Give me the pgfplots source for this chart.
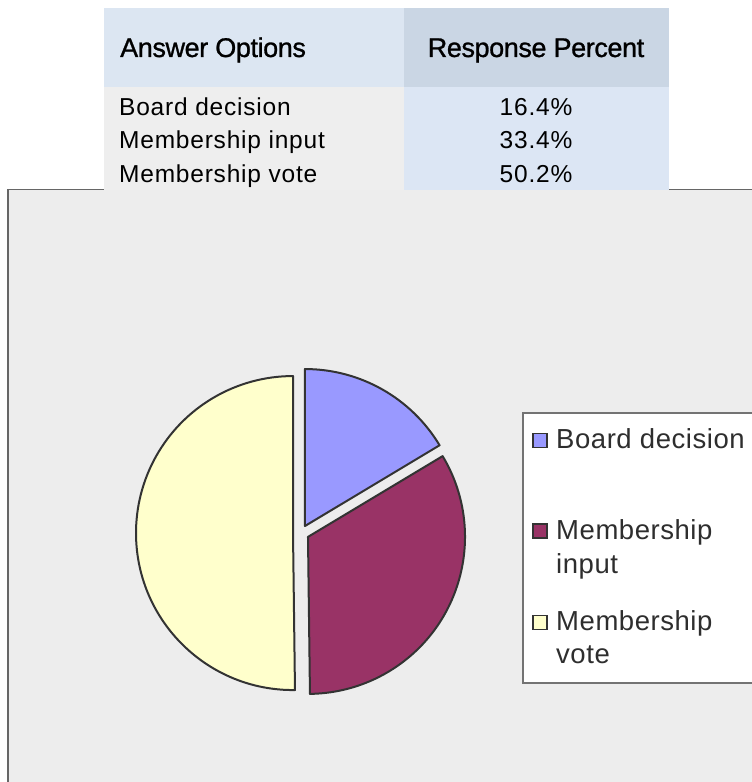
\documentclass[border=0pt]{standalone}
\usepackage{pgfplots}
\pgfplotsset{compat=1.18}
\usepackage{pgfplotstable}
\usepackage{fontspec}
\setmainfont{Liberation Sans}
\newfontfamily\hdrfont[LetterSpace=-1.5,FakeBold=1]{Liberation Sans}
\newfontfamily\rowfont[LetterSpace=3.2]{Liberation Sans}
\newfontfamily\legfont[LetterSpace=2]{Liberation Sans}
\definecolor{chartbg}{HTML}{EDEDED}
\definecolor{hdrA}{HTML}{DCE6F2}
\definecolor{hdrB}{HTML}{CAD6E4}
\definecolor{cellA}{HTML}{EEEEEE}
\definecolor{cellB}{HTML}{DCE6F4}
\definecolor{sBlue}{HTML}{9999FF}
\definecolor{sPurple}{HTML}{993366}
\definecolor{sYellow}{HTML}{FFFFCC}
\definecolor{edge}{HTML}{333333}
\definecolor{legtext}{HTML}{2E2E2E}

\pgfplotstableread{
label value
Board 16.4
Input 33.4
Vote 50.2
}\piedata

\begin{document}
\begin{tikzpicture}[x=1bp,y=1bp]
\clip (0,0) rectangle (752,-782);
\fill[white] (0,0) rectangle (752,-782);
% chart area
\filldraw[fill=chartbg, draw=black!60, line width=1.2bp] (8,-189.5) rectangle (780,-800);
% table
\fill[hdrA] (104,-8) rectangle (404,-87);
\fill[hdrB] (404,-8) rectangle (669,-87);
\fill[cellA] (104,-87) rectangle (404,-190);
\fill[cellB] (404,-87) rectangle (669,-190);
\begingroup
\fontsize{27bp}{30bp}\hdrfont
\node[anchor=base west, inner sep=0] at (120,-57) {Answer Options};
\node[anchor=base, inner sep=0] at (536,-57) {Response Percent};
\endgroup
\begingroup
\fontsize{24.5bp}{28bp}\rowfont
\node[anchor=base west, inner sep=0] at (119,-115) {Board decision};
\node[anchor=base west, inner sep=0] at (119,-148.5) {Membership input};
\node[anchor=base west, inner sep=0] at (119,-182.5) {Membership vote};
\node[anchor=base, inner sep=0] at (536,-115) {16.4\%};
\node[anchor=base, inner sep=0] at (536,-148.5) {33.4\%};
\node[anchor=base, inner sep=0] at (536,-182.5) {50.2\%};
\endgroup
% angles from data
\pgfplotstablegetelem{0}{value}\of\piedata \let\vA\pgfplotsretval
\pgfplotstablegetelem{1}{value}\of\piedata \let\vB\pgfplotsretval
\pgfplotstablegetelem{2}{value}\of\piedata \let\vC\pgfplotsretval
\pgfmathsetmacro\tot{\vA+\vB+\vC}
\pgfmathsetmacro\aA{90}
\pgfmathsetmacro\aB{\aA-(\vA/\tot)*360}
\pgfmathsetmacro\aC{\aB-(\vB/\tot)*360}
\pgfmathsetmacro\aD{\aC-(\vC/\tot)*360}
\def\cx{301}\def\cy{-533}\def\ex{8}\def\R{157}
\pgfmathsetmacro\xA{\cx+\ex*cos((\aA+\aB)/2)}\pgfmathsetmacro\yA{\cy+\ex*sin((\aA+\aB)/2)}
\pgfmathsetmacro\xB{\cx+\ex*cos((\aB+\aC)/2)}\pgfmathsetmacro\yB{\cy+\ex*sin((\aB+\aC)/2)}
\pgfmathsetmacro\xC{\cx+\ex*cos((\aC+\aD)/2)}\pgfmathsetmacro\yC{\cy+\ex*sin((\aC+\aD)/2)}
\begin{axis}[x=1bp, y=1bp, xmin=0, xmax=752, ymin=-782, ymax=0,
  hide axis, anchor=origin, at={(0,0)}, clip=false]
\filldraw[fill=sBlue, draw=edge, line width=2bp, line join=round]
  (axis cs:\xA,\yA) -- ++(\aA:\R bp) arc[start angle=\aA, end angle=\aB, radius=\R bp] -- cycle;
\filldraw[fill=sPurple, draw=edge, line width=2bp, line join=round]
  (axis cs:\xB,\yB) -- ++(\aB:\R bp) arc[start angle=\aB, end angle=\aC, radius=\R bp] -- cycle;
\filldraw[fill=sYellow, draw=edge, line width=2bp, line join=round]
  (axis cs:\xC,\yC) -- ++(\aC:\R bp) arc[start angle=\aC, end angle=\aD, radius=\R bp] -- cycle;
\end{axis}
% legend
\filldraw[fill=white, draw=black!55, line width=1.2bp] (523,-413) rectangle (780,-683);
\filldraw[fill=sBlue, draw=edge, line width=1.5bp] (533,-433.5) rectangle (547,-447.5);
\filldraw[fill=sPurple, draw=edge, line width=1.5bp] (533,-524) rectangle (547,-538);
\filldraw[fill=sYellow, draw=edge, line width=1.5bp] (533,-615.5) rectangle (547,-629.5);
\begingroup
\fontsize{27.5bp}{30bp}\legfont\color{legtext}
\node[anchor=base west, inner sep=0] at (556,-448.5) {Board decision};
\node[anchor=base west, inner sep=0] at (556,-539.5) {Membership};
\node[anchor=base west, inner sep=0] at (556,-573) {input};
\node[anchor=base west, inner sep=0] at (556,-630) {Membership};
\node[anchor=base west, inner sep=0] at (556,-663) {vote};
\endgroup
\end{tikzpicture}
\end{document}
